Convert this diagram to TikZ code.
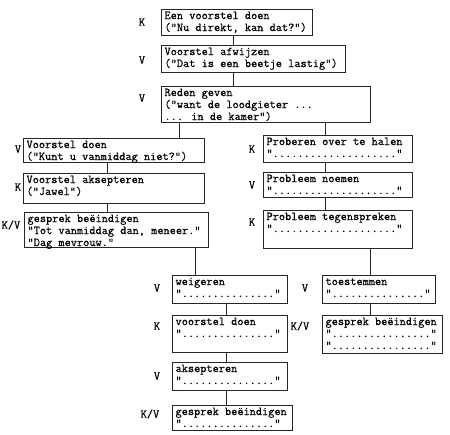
\documentclass[tikz,border=0pt]{standalone}
\usepackage{fontspec}
\newfontfamily\typewriter{Latin Modern Mono}[FakeBold=0.6]
\usetikzlibrary{calc}

\begin{document}
\begin{tikzpicture}[
    x=1pt, y=-1pt,
    box/.style={
        rectangle,
        draw=black!85,
        line width=1.1pt,
        anchor=north west,
        align=left,
        inner xsep=3pt,
        inner ysep=1.5pt,
        text height=8pt,
        font=\typewriter\fontsize{12}{12}\selectfont,
        execute at begin node={\spaceskip=0pt\relax\xspaceskip=0pt\relax}
    },
    role/.style={
        font=\typewriter\fontsize{12}{12}\selectfont,
        inner sep=0pt
    },
    link/.style={
        line width=0.9pt,
        black!85
    }
]
\useasboundingbox (0,0) rectangle (450,435);

% Opening exchange
\node[box, text width=145pt, text depth=15pt] (een) at (161,9) {Een voorstel doen\\("Nu direkt, kan dat?")};
\node[box, text width=178pt, text depth=16pt] (afwijzen) at (161,45) {Voorstel afwijzen\\("Dat is een beetje lastig")};
\node[box, text width=203pt, text depth=25pt] (reden) at (161,86) {Reden geven\\("want de loodgieter ...\\... in de kamer")};

% Left branch
\node[box, text width=175pt, text depth=13pt] (voorstelL) at (23,138) {Voorstel doen\\("Kunt u vanmiddag niet?")};
\node[box, text width=175pt, text depth=19pt] (akseptL) at (23,173) {Voorstel aksepteren\\("Jawel")};
\node[box, text width=178pt, text depth=24pt] (gesprekL) at (24,212) {gesprek beëindigen\\"Tot vanmiddag dan, meneer."\\"Dag mevrouw."};

% Right branch
\node[box, text width=143pt, text depth=16pt] (proberen) at (263,135) {Proberen over te halen\\"...................."};
\node[box, text width=143pt, text depth=14pt] (noemen) at (263,172) {Probleem noemen\\"...................."};
\node[box, text width=143pt, text depth=27pt] (tegen) at (263,210) {Probleem tegenspreken\\"...................."};

% Lower boxes
\node[box, text width=109pt, text depth=17pt] (weigeren) at (172,275) {weigeren\\"..............."};
\node[box, text width=107pt, text depth=17pt] (toestemmen) at (322,275) {toestemmen\\"..............."};
\node[box, text width=109pt, text depth=26pt] (voorstelB) at (172,315) {voorstel doen\\"..............."};
\node[box, text width=114pt, text depth=27pt] (gesprekR) at (322,315) {gesprek beëindigen\\"................"\\"................"};
\node[box, text width=109pt, text depth=17pt] (akseptB) at (172,362) {aksepteren\\"..............."};
\node[box, text width=114pt, text depth=14pt] (gesprekB) at (172,405) {gesprek beëindigen\\"..............."};

% Speaker labels
\node[role] (r1) at (142,22) {K};
\node[role] (r2) at (142,60) {V};
\node[role] (r3) at (142,98) {V};
\node[role] (r4) at (18,149) {V};
\node[role] (r5) at (18,187) {K};
\node[role] (r6) at (11,225) {K/V};
\node[role] (r7) at (252,149) {K};
\node[role] (r8) at (252,185) {V};
\node[role] (r9) at (252,222) {K};
\node[role] (r10) at (157,288) {V};
\node[role] (r11) at (305,288) {V};
\node[role] (r12) at (157,326) {K};
\node[role] (r13) at (300,326) {K/V};
\node[role] (r14) at (157,376) {V};
\node[role] (r15) at (150,414) {K/V};

% Connecting lines
\draw[link] (een.south -| 233,0) -- (afwijzen.north -| 233,0);
\draw[link] (afwijzen.south -| 233,0) -- (reden.north -| 233,0);
\draw[link] (reden.south -| 179,0) -- (voorstelL.north -| 179,0);
\draw[link] (reden.south -| 325,0) -- (proberen.north -| 325,0);
\draw[link] (voorstelL.south -| 107,0) -- (akseptL.north -| 107,0);
\draw[link] (akseptL.south -| 107,0) -- (gesprekL.north -| 107,0);
\draw[link] (gesprekL.south -| 195,0) -- (weigeren.north -| 195,0);
\draw[link] (proberen.south -| 325,0) -- (noemen.north -| 325,0);
\draw[link] (noemen.south -| 325,0) -- (tegen.north -| 325,0);
\draw[link] (tegen.south -| 370,0) -- (toestemmen.north -| 370,0);
\draw[link] (weigeren.south -| 226,0) -- (voorstelB.north -| 226,0);
\draw[link] (toestemmen.south -| 370,0) -- (gesprekR.north -| 370,0);
\draw[link] (voorstelB.south -| 226,0) -- (akseptB.north -| 226,0);
\draw[link] (akseptB.south -| 226,0) -- (gesprekB.north -| 226,0);

\end{tikzpicture}
\end{document}
